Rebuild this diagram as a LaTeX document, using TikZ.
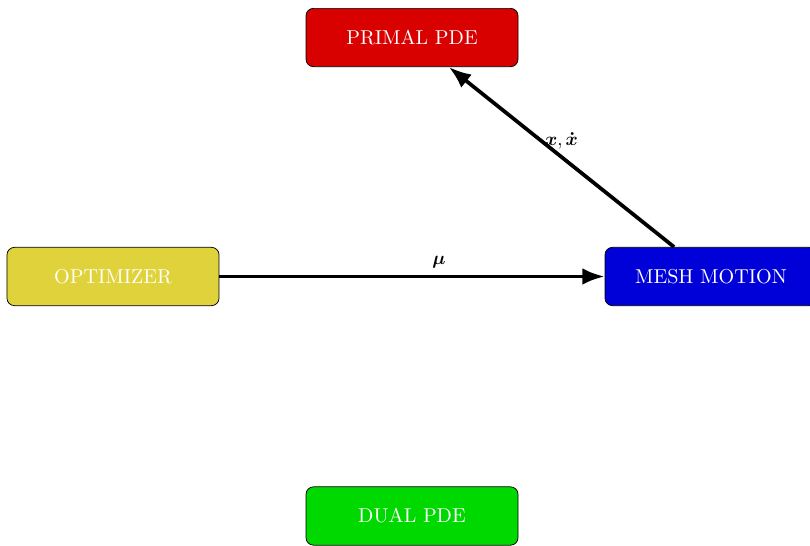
\documentclass[tikz,border=0pt]{standalone}
\usepackage{amsmath,bm}
\usetikzlibrary{arrows.meta}

\definecolor{primalred}{RGB}{217,0,0}
\definecolor{optyellow}{RGB}{224,210,58}
\definecolor{meshblue}{RGB}{0,0,217}
\definecolor{dualgreen}{RGB}{0,217,0}

\tikzset{
    blok/.style={draw, rectangle, rounded corners, text=white, font=\fontsize{10.8}{13}\selectfont, minimum width=4cm, minimum height=1.1cm},
    flow/.style={-{Latex}, line width=2pt}
}

\begin{document}
\begin{tikzpicture}
                \useasboundingbox (0,0) rectangle (15.283,10.283);
                \node at (2.132,5.066) [blok, fill=optyellow] (OPT) {OPTIMIZER};
                \node at (7.774,9.575) [blok, fill=primalred] (PRIMAL) {PRIMAL PDE};
                \node at (13.415,5.066) [blok, fill=meshblue] (MESH) {MESH MOTION};
                \node at (7.774,0.547) [blok, fill=dualgreen] (DUAL) {DUAL PDE};
                \draw[flow] (OPT) -- (MESH) node[pos=0.57, above] {$\bm{\mu}$};
                \draw[flow] (MESH) -- (PRIMAL) node[midway, above] {$\bm{x}, \bm{\dot{x}}$};
            \end{tikzpicture}
\end{document}
